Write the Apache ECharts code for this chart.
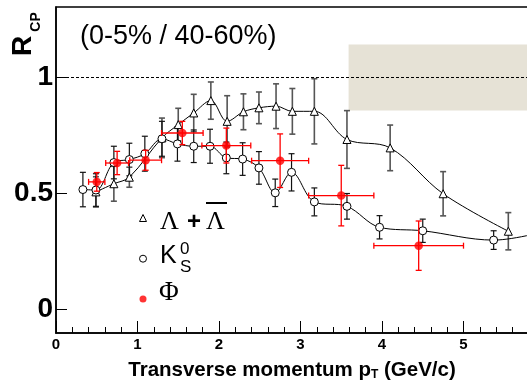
<!DOCTYPE html>
<html>
<head>
<meta charset="utf-8">
<script src="https://cdn.jsdelivr.net/npm/echarts@6/dist/echarts.min.js"></script>
<style>
  html, body { margin: 0; padding: 0; background: #fff; }
  #chart { width: 527px; height: 387px; }
</style>
</head>
<body>
<div id="chart"></div>
<script>
// Lambda + anti-Lambda
const lamPt = [0.49, 0.71, 0.9, 1.3, 1.5, 1.69, 1.9, 2.1, 2.3, 2.49, 2.7, 2.9, 3.17, 3.57, 4.1, 4.75, 5.55]
const lamR = [0.506, 0.541, 0.569, 0.738, 0.795, 0.845, 0.898, 0.809, 0.85, 0.867, 0.874, 0.852, 0.852, 0.731, 0.695, 0.498, 0.337]
const lamErr = [0.065, 0.075, 0.043, 0.085, 0.07, 0.08, 0.08, 0.11, 0.077, 0.068, 0.096, 0.098, 0.14, 0.124, 0.098, 0.095, 0.08]
// K0s
const kPt = [0.33, 0.49, 0.71, 0.9, 1.09, 1.3, 1.49, 1.69, 1.89, 2.09, 2.29, 2.49, 2.69, 2.89, 3.17, 3.57, 3.97, 4.5, 5.37, 6.1]
const kR = [0.516, 0.514, 0.632, 0.645, 0.67, 0.734, 0.712, 0.702, 0.702, 0.652, 0.647, 0.609, 0.502, 0.59, 0.463, 0.444, 0.354, 0.339, 0.299, 0.345]
const kErr = [0.074, 0.07, 0.07, 0.07, 0.075, 0.075, 0.074, 0.07, 0.073, 0.068, 0.07, 0.07, 0.059, 0.08, 0.06, 0.055, 0.05, 0.05, 0.04, 0.04]
// phi
const phiPt = [0.5, 0.75, 1.1, 1.55, 2.09, 2.75, 3.5, 4.45]
const phiPtErr = [0.1, 0.14, 0.195, 0.255, 0.3, 0.35, 0.4, 0.55]
const phiR = [0.549, 0.63, 0.642, 0.759, 0.705, 0.64, 0.49, 0.275]
const phiErr = [0.04, 0.05, 0.043, 0.05, 0.075, 0.115, 0.13, 0.106]
// axis ticks, reference line, systematic band
const yTicks = [0, 0.5, 1]
const refLine = 1
const sysBand = [3.59, 0.856, 6, 1.139]

const chart = echarts.init(document.getElementById('chart'))

function zip(a, b, c, d) {
  return a.map((v, i) => d ? [v, b[i], c[i], d[i]] : c ? [v, b[i], c[i]] : [v, b[i]])
}

function seg(x1, y1, x2, y2, color, w) {
  return { type: 'line', shape: { x1, y1, x2, y2 }, style: { stroke: color, lineWidth: w } }
}

// vertical error bars with caps
function vBars(color, w) {
  return function (params, api) {
    const x = api.value(0), y = api.value(1), e = api.value(2)
    const t = api.coord([x, y + e])
    const b = api.coord([x, y - e])
    const c = 3
    return {
      type: 'group',
      children: [
        seg(t[0], t[1], b[0], b[1], color, w),
        seg(t[0] - c, t[1], t[0] + c, t[1], color, w),
        seg(b[0] - c, b[1], b[0] + c, b[1], color, w)
      ]
    }
  }
}

// x and y error bars for phi
function xyBars(params, api) {
  const x = api.value(0), y = api.value(1), ex = api.value(2), ey = api.value(3)
  const l = api.coord([x - ex, y]), r = api.coord([x + ex, y])
  const t = api.coord([x, y + ey]), b = api.coord([x, y - ey])
  const c = 3, col = '#ff0000', w = 1.3
  return {
    type: 'group',
    children: [
      seg(l[0], l[1], r[0], r[1], col, w),
      seg(l[0], l[1] - c, l[0], l[1] + c, col, w),
      seg(r[0], r[1] - c, r[0], r[1] + c, col, w),
      seg(t[0], t[1], b[0], b[1], col, w),
      seg(t[0] - c, t[1], t[0] + c, t[1], col, w),
      seg(b[0] - c, b[1], b[0] + c, b[1], col, w)
    ]
  }
}

const option = {
  animation: false,
  grid: {
    left: 56, right: -18, top: 7, bottom: 54,
    outerBoundsMode: 'none',
    show: true,
    borderColor: '#000',
    borderWidth: 1.5
  },
  legend: {
    orient: 'vertical',
    left: 139,
    top: 214,
    padding: 0,
    itemWidth: 7,
    itemHeight: 7,
    itemGap: 32.7,
    selectedMode: false,
    formatter: () => '',
    textStyle: { fontSize: 6 },
    data: [
      { name: 'lambda', icon: 'triangle', itemStyle: { color: '#fff', borderColor: '#000', borderWidth: 1 } },
      { name: 'k0s', icon: 'circle', itemStyle: { color: '#fff', borderColor: '#000', borderWidth: 1 } },
      { name: 'phi', icon: 'circle', itemStyle: { color: '#ff0000', borderWidth: 0 } }
    ]
  },
  xAxis: {
    type: 'value',
    min: 0,
    max: 6,
    interval: 1,
    axisLine: { onZero: false, lineStyle: { color: '#000', width: 1.5 } },
    axisTick: { show: true, inside: true, length: 12, lineStyle: { color: '#000', width: 1 } },
    minorTick: { show: true, splitNumber: 5, length: 6, lineStyle: { color: '#000', width: 1 } },
    splitLine: { show: false },
    axisLabel: {
      showMaxLabel: false,
      margin: 4,
      color: '#000',
      fontFamily: 'Liberation Sans',
      fontWeight: 'bold',
      fontSize: 15
    },
    name: '{t|Transverse momentum p}{s|T}{t| (GeV/c)}',
    nameLocation: 'middle',
    nameGap: 23,
    nameTextStyle: {
      padding: [0, 17, 0, 0],
      rich: {
        t: { fontFamily: 'Liberation Sans', fontWeight: 'bold', fontSize: 20.5, lineHeight: 21, verticalAlign: 'top', color: '#000' },
        s: { fontFamily: 'Liberation Sans', fontWeight: 'bold', fontSize: 12, lineHeight: 12, verticalAlign: 'bottom', padding: [12, 0, 0, 0], color: '#000' }
      }
    }
  },
  yAxis: {
    type: 'value',
    min: -0.1,
    max: 1.3,
    axisLine: { show: true, onZero: false, lineStyle: { color: '#000', width: 1.5 } },
    axisTick: { show: true, inside: true, length: 11, customValues: yTicks, lineStyle: { color: '#000', width: 1 } },
    splitLine: { show: false },
    axisLabel: {
      customValues: yTicks,
      margin: 3,
      color: '#000',
      fontFamily: 'Liberation Sans',
      fontWeight: 'bold',
      fontSize: 28,
      formatter: v => String(v)
    }
  },
  series: [
    {
      name: 'lambdaErr',
      type: 'custom',
      clip: true,
      z: 2,
      renderItem: vBars('#555', 1.6),
      data: zip(lamPt, lamR, lamErr)
    },
    {
      name: 'k0sErr',
      type: 'custom',
      clip: true,
      z: 2,
      renderItem: vBars('#111', 1.2),
      data: zip(kPt, kR, kErr)
    },
    {
      name: 'lambda',
      type: 'line',
      smooth: 0.35,
      symbol: 'triangle',
      symbolSize: 8,
      showAllSymbol: true,
      itemStyle: { color: '#fff', borderColor: '#000', borderWidth: 1 },
      lineStyle: { color: '#000', width: 1 },
      z: 4,
      data: zip(lamPt, lamR),
      markArea: {
        silent: true,
        itemStyle: { color: '#e6e2d6' },
        data: [[{ coord: [sysBand[0], sysBand[1]] }, { coord: [sysBand[2], sysBand[3]] }]]
      }
    },
    {
      name: 'k0s',
      type: 'line',
      smooth: 0.35,
      symbol: 'circle',
      symbolSize: 8,
      showAllSymbol: true,
      itemStyle: { color: '#fff', borderColor: '#000', borderWidth: 1 },
      lineStyle: { color: '#000', width: 1 },
      z: 4,
      data: zip(kPt, kR),
      markLine: {
        silent: true,
        symbol: 'none',
        label: { show: false },
        lineStyle: { color: '#000', width: 1, type: [3, 2] },
        data: [{ yAxis: refLine }]
      }
    },
    {
      name: 'phiErr',
      type: 'custom',
      clip: true,
      z: 5,
      renderItem: xyBars,
      data: zip(phiPt, phiR, phiPtErr, phiErr)
    },
    {
      name: 'phi',
      type: 'scatter',
      symbol: 'circle',
      symbolSize: 8.5,
      itemStyle: { color: '#ff0000' },
      z: 6,
      data: zip(phiPt, phiR)
    }
  ],
  graphic: [
    { type: 'text', x: 80, y: 37, style: { text: '(0-5% / 40-60%)', font: '27px "Liberation Sans"', fill: '#000', textVerticalAlign: 'middle' } },
    { type: 'text', x: 23, y: 46, rotation: Math.PI / 2, style: { text: 'R', font: 'bold 28px "Liberation Sans"', fill: '#000', textAlign: 'center', textVerticalAlign: 'middle' } },
    { type: 'text', x: 36, y: 22, rotation: Math.PI / 2, style: { text: 'CP', font: 'bold 14px "Liberation Sans"', fill: '#000', textAlign: 'center', textVerticalAlign: 'middle' } },
    // legend labels
    { type: 'text', x: 160, y: 222, style: { text: 'Λ', font: '26px "Liberation Serif"', fill: '#000', textVerticalAlign: 'middle' } },
    { type: 'text', x: 187, y: 222, style: { text: '+', font: 'bold 24px "Liberation Sans"', fill: '#000', textVerticalAlign: 'middle' } },
    { type: 'text', x: 206, y: 222, style: { text: 'Λ', font: '26px "Liberation Serif"', fill: '#000', textVerticalAlign: 'middle' } },
    { type: 'line', shape: { x1: 206, y1: 203, x2: 227, y2: 203 }, style: { stroke: '#000', lineWidth: 2 } },
    { type: 'text', x: 160, y: 256, style: { text: 'K', font: '25px "Liberation Sans"', fill: '#000', textVerticalAlign: 'middle' } },
    { type: 'text', x: 180, y: 249, style: { text: '0', font: '17px "Liberation Sans"', fill: '#000', textVerticalAlign: 'middle' } },
    { type: 'text', x: 180, y: 267, style: { text: 'S', font: '17px "Liberation Sans"', fill: '#000', textVerticalAlign: 'middle' } },
    { type: 'text', x: 159, y: 293, style: { text: 'Φ', font: '27px "Liberation Serif"', fill: '#000', textVerticalAlign: 'middle' } }
  ]
}

chart.setOption(option)
</script>
</body>
</html>
